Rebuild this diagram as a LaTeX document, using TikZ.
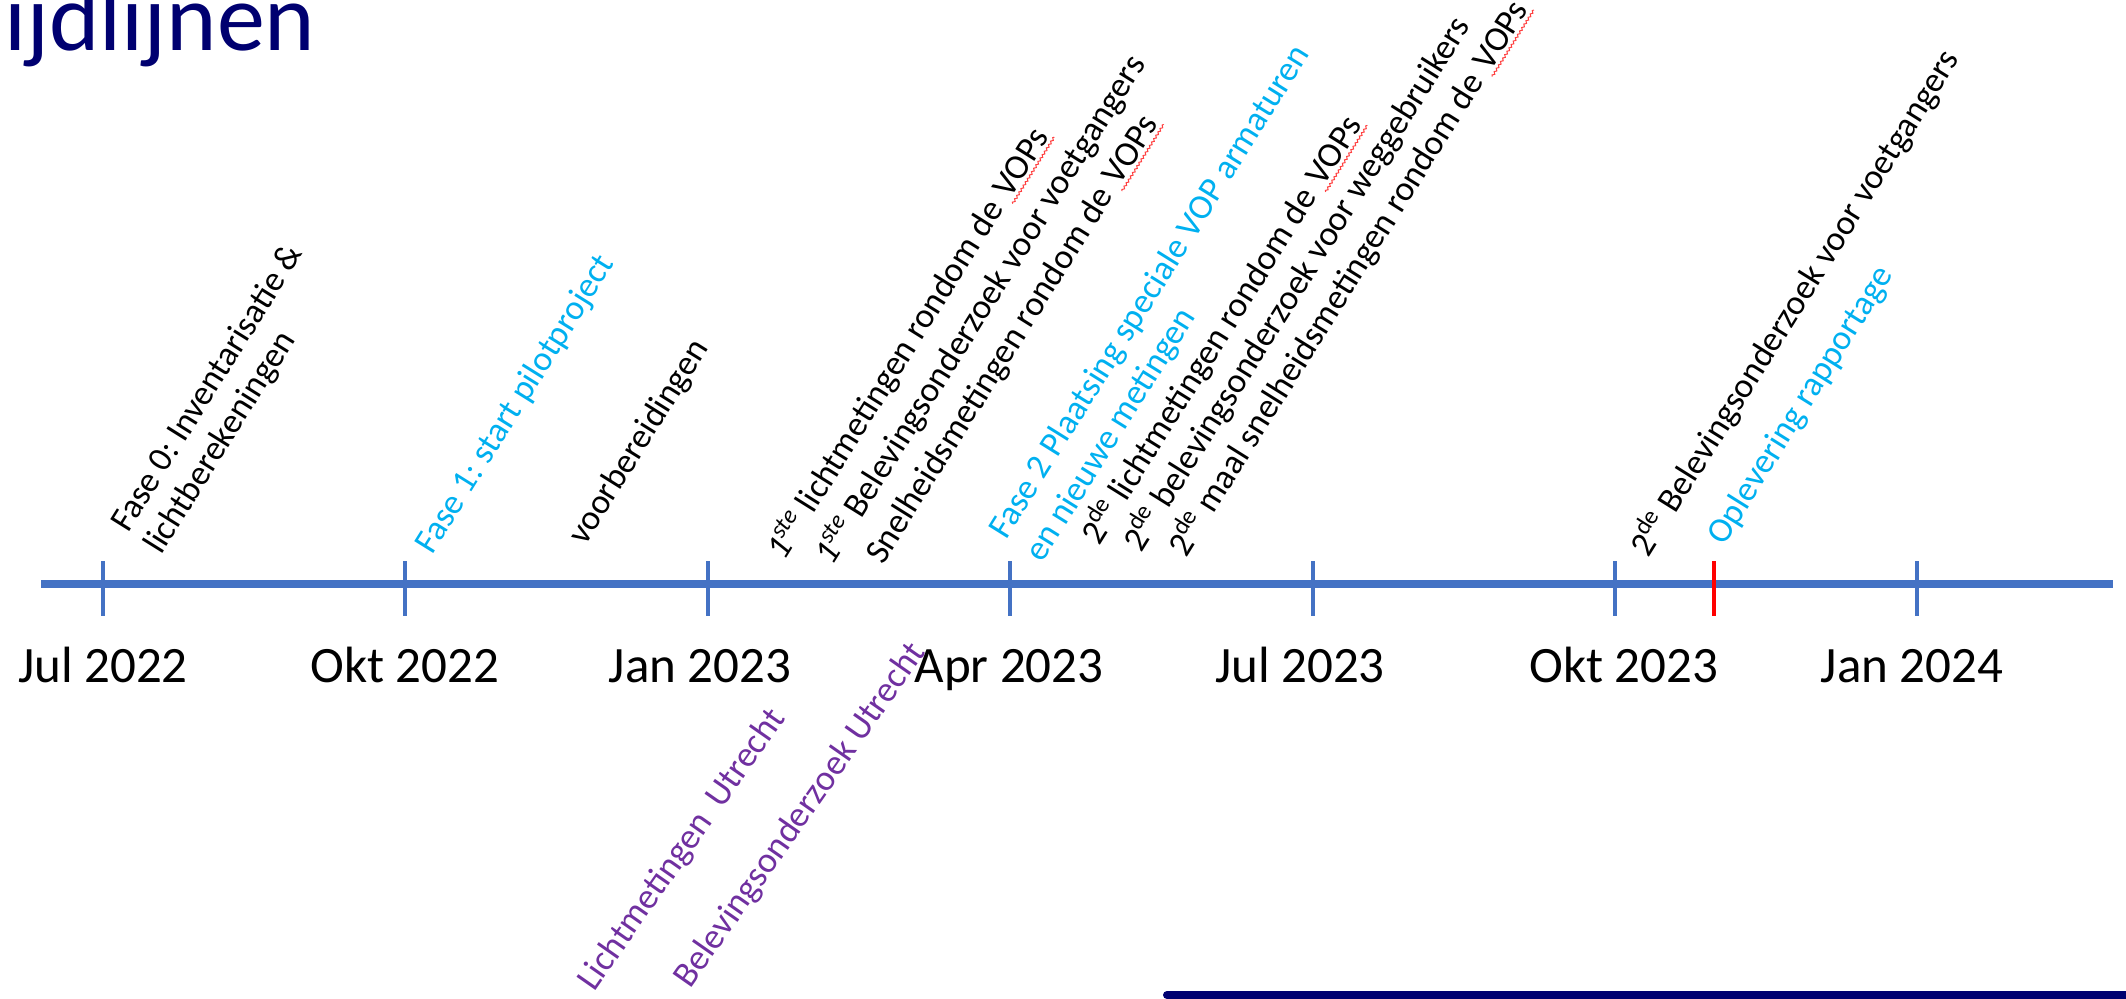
\documentclass[tikz,border=0pt]{standalone}
\usepackage{fontspec}
\setmainfont{Carlito}
\usetikzlibrary{decorations.pathmorphing}

\definecolor{axisblue}{HTML}{4472C4}
\definecolor{phaseblue}{HTML}{00B0F0}
\definecolor{utrechtpurple}{HTML}{7030A0}
\definecolor{titlenavy}{HTML}{000070}

\tikzstyle{axis} = [draw=axisblue, line width=4pt]
\tikzstyle{tick} = [draw=axisblue, line width=2pt]
\tikzstyle{month} = [font=\fontsize{25.5}{30}\selectfont, anchor=base, inner sep=0pt]
\tikzstyle{event} = [font=\fontsize{17.5}{21}\selectfont, rotate=58, anchor=base west, inner sep=0pt]
\tikzstyle{phase} = [event, text=phaseblue]
\tikzstyle{utrecht} = [event, rotate=-3, text=utrechtpurple, font=\fontsize{18}{21}\selectfont]
\tikzstyle{wave} = [draw=red!75, line width=0.5pt, decorate, decoration={snake, amplitude=0.5pt, segment length=2pt}]

% word with a red wavy underline
\newcommand\spellmark[1]{\tikz[baseline=(w.base)]{\node[inner sep=0pt] (w) {#1};
    \draw[wave] ([shift={(-1pt,-2pt)}]w.base west) -- ([shift={(1pt,-2pt)}]w.base east);}}

\frenchspacing

\begin{document}
\begin{tikzpicture}[x=0.5pt, y=-0.5pt]
    \useasboundingbox (0,0) rectangle (2126,998);
    \clip (0,0) rectangle (2126,998);

    \node[font=\fontsize{48}{56}\selectfont, text=titlenavy, anchor=base west, inner sep=0pt] (title) at (4,50) {ijdlijnen};

    % time axis
    \coordinate (start) at (41,584);
    \coordinate (end) at (2113,584);
    \draw[axis] (start) -- (end);

    \coordinate (m1) at (103,584);
    \coordinate (m2) at (405,584);
    \coordinate (m3) at (708,584);
    \coordinate (m4) at (1010,584);
    \coordinate (m5) at (1313,584);
    \coordinate (m6) at (1615,584);
    \coordinate (m7) at (1917,584);
    \coordinate (now) at (1714,584);

    \draw[tick] (m1) ++(0,-23) -- ++(0,55);
    \draw[tick] (m2) ++(0,-23) -- ++(0,55);
    \draw[tick] (m3) ++(0,-23) -- ++(0,55);
    \draw[tick] (m4) ++(0,-23) -- ++(0,55);
    \draw[tick] (m5) ++(0,-23) -- ++(0,55);
    \draw[tick] (m6) ++(0,-23) -- ++(0,55);
    \draw[tick] (m7) ++(0,-23) -- ++(0,55);
    \draw[tick, draw=red] (now) ++(0,-23) -- ++(0,55);

    \node[month] (l1) at (103,682) {Jul 2022};
    \node[month] (l2) at (405,682) {Okt 2022};
    \node[month] (l3) at (700,682) {Jan 2023};
    \node[month] (l4) at (1009,682) {Apr 2023};
    \node[month] (l5) at (1300,682) {Jul 2023};
    \node[month] (l6) at (1624,682) {Okt 2023};
    \node[month] (l7) at (1912,682) {Jan 2024};

    % activities above the axis
    \node[event] (f0a) at (128,534) {Fase 0: Inventarisatie \&};
    \node[event] (f0b) at (161,556) {lichtberekeningen};
    \node[phase] (f1) at (432,556) {Fase 1: start pilotproject};
    \node[event] (prep) at (585,547) {voorbereidingen};
    \node[event] (lm1) at (784,562) {\textit{1\textsuperscript{ste}} lichtmetingen rondom de \spellmark{VOPs}};
    \node[event] (bo1) at (832,567) {\textit{1\textsuperscript{ste}} Belevingsonderzoek voor voetgangers};
    \node[event] (sn1) at (883,566) {Snelheidsmetingen rondom de \spellmark{VOPs}};
    \node[phase] (f2a) at (1006,541) {Fase 2 Plaatsing speciale VOP armaturen};
    \node[phase] (f2b) at (1042,564) {en nieuwe metingen};
    \node[event] (lm2) at (1099,547) {2\textsuperscript{de} lichtmetingen rondom de \spellmark{VOPs}};
    \node[event] (bo2) at (1141,554) {2\textsuperscript{de} belevingsonderzoek voor weggebruikers};
    \node[event] (sn2) at (1186,559) {2\textsuperscript{de} maal snelheidsmetingen rondom de \spellmark{VOPs}};
    \node[event] (bo3) at (1648,559) {2\textsuperscript{de} Belevingsonderzoek voor voetgangers};
    \node[phase] (opl) at (1724,547) {Oplevering rapportage};

    % Utrecht, below the axis
    \node[utrecht] (ut1) at (594,993) {Lichtmetingen\hspace{0.2em} Utrecht};
    \node[utrecht] (ut2) at (690,990) {Belevingsonderzoek Utrecht};

    \draw[titlenavy, line width=4pt, line cap=round] (1167,995) -- (2140,995);
\end{tikzpicture}
\end{document}
